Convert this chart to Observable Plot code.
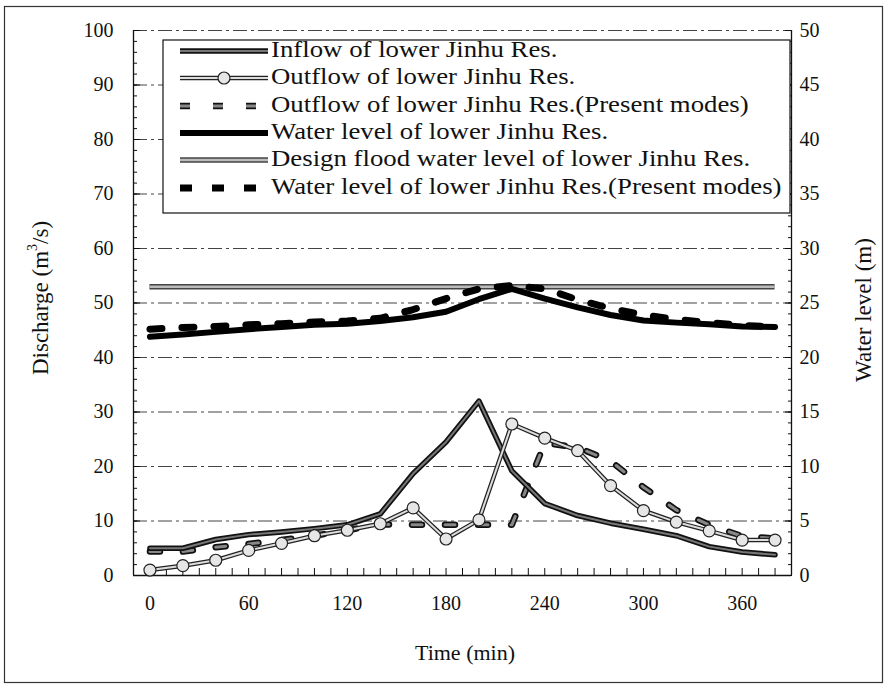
<!DOCTYPE html>
<html><head><meta charset="utf-8">
<script src="https://cdn.jsdelivr.net/npm/d3@7"></script>
<script src="https://cdn.jsdelivr.net/npm/@observablehq/plot@0.6"></script>
<style>
html,body{margin:0;padding:0;background:#fff;}
#chart{width:885px;height:689px;position:relative;}
</style></head><body><div id="chart"></div>
<script>
// ---- data ----
const time = [0,20,40,60,80,100,120,140,160,180,200,220,240,260,280,300,320,340,360,380];
const inflow = [5.0,5.0,6.6,7.5,8.0,8.6,9.3,11.3,18.7,24.5,32.0,19.2,13.2,11.0,9.6,8.5,7.3,5.3,4.3,3.8];
const outflow = [1.0,1.8,2.8,4.6,5.9,7.3,8.3,9.5,12.4,6.7,10.2,27.8,25.2,22.9,16.5,11.9,9.8,8.2,6.5,6.5];
const outflowPresent = [4.4,4.4,5.2,5.8,6.5,7.3,8.3,9.4,9.3,9.3,9.3,9.3,24.3,23.5,21.0,16.2,12.0,9.3,7.2,6.8];
const waterLevel = [21.9,22.1,22.35,22.6,22.8,23.0,23.1,23.35,23.7,24.2,25.35,26.3,25.4,24.6,23.9,23.4,23.2,23.05,22.85,22.8];
const waterLevelPresent = [22.6,22.75,22.85,23.0,23.1,23.25,23.35,23.6,24.4,25.4,26.3,26.6,26.3,25.3,24.5,23.9,23.5,23.2,22.95,22.8];
const designFloodLevel = [26.5];
const xTicks = [0,60,120,180,240,300,360];
const leftTicks = [0,10,20,30,40,50,60,70,80,90,100];
const rightTicks = [0,5,10,15,20,25,30,35,40,45,50];
const legendLabels = [
  "Inflow of lower Jinhu Res.",
  "Outflow of lower Jinhu Res.",
  "Outflow of lower Jinhu Res.(Present modes)",
  "Water level of lower Jinhu Res.",
  "Design flood water level of lower Jinhu Res.",
  "Water level of lower Jinhu Res.(Present modes)"
];

// water level axis (right) is half of discharge axis (left)
const ratio = 2;
const rows = time.map((t, i) => ({
  t, inflow: inflow[i], outflow: outflow[i], outP: outflowPresent[i],
  wl: waterLevel[i] * ratio, wlP: waterLevelPresent[i] * ratio
}));
const xMinor = d3.range(0, 390, 10);
const yMinor = d3.range(0, 101, 2);
const rightInLeft = rightTicks.map(v => v * ratio);

const font = "'Liberation Serif','Times New Roman',serif";
const gridDash = "14,4,3,4";

const plot = Plot.plot({
  width: 885, height: 689,
  marginLeft: 133, marginRight: 94, marginTop: 30, marginBottom: 114,
  x: {domain: [-10, 390]},
  y: {domain: [0, 100]},
  style: {fontFamily: font, fontSize: "20px", color: "#111", background: "transparent"},
  marks: [
    Plot.ruleY(leftTicks.filter(d => d > 0), {stroke: "#444", strokeWidth: 1, strokeDasharray: gridDash}),
    Plot.ruleY([0], {stroke: "#111", strokeWidth: 1.3}),
    Plot.ruleX([-10, 390], {stroke: "#111", strokeWidth: 1.3}),
    // ticks (inward)
    Plot.axisX({ticks: xMinor, tickSize: -7, tickFormat: () => "", label: null}),
    Plot.axisX({ticks: xTicks, tickSize: 0, tickPadding: 20, label: null}),
    Plot.axisY({anchor: "left", ticks: yMinor, tickSize: -4, tickFormat: () => "", label: null}),
    Plot.axisY({anchor: "left", ticks: leftTicks, tickSize: -7, tickFormat: () => "", label: null}),
    Plot.axisY({anchor: "left", ticks: leftTicks, tickSize: 0, tickPadding: 20, label: null}),
    Plot.axisY({anchor: "right", ticks: yMinor, tickSize: -4, tickFormat: () => "", label: null}),
    Plot.axisY({anchor: "right", ticks: rightInLeft, tickSize: -7, tickFormat: () => "", label: null}),
    Plot.axisY({anchor: "right", ticks: rightInLeft, tickSize: 0, tickPadding: 8, tickFormat: d => d / ratio, label: null}),
    // design flood water level
    Plot.ruleY(designFloodLevel, {y: d => d * ratio, x1: time[0], x2: time[time.length - 1], stroke: "#444", strokeWidth: 5.5}),
    Plot.ruleY(designFloodLevel, {y: d => d * ratio, x1: time[0], x2: time[time.length - 1], stroke: "#bbb", strokeWidth: 2.5}),
    // water level present modes
    Plot.line(rows, {x: "t", y: "wlP", stroke: "#000", strokeWidth: 7, strokeDasharray: "12,20"}),
    // water level
    Plot.line(rows, {x: "t", y: "wl", stroke: "#000", strokeWidth: 6}),
    // outflow present modes
    Plot.line(rows, {x: "t", y: "outP", stroke: "#111", strokeWidth: 6.5, strokeDasharray: "10,23"}),
    Plot.line(rows, {x: "t", y: "outP", stroke: "#888", strokeWidth: 3, strokeDasharray: "10,23"}),
    // inflow
    Plot.line(rows, {x: "t", y: "inflow", stroke: "#111", strokeWidth: 5.5}),
    Plot.line(rows, {x: "t", y: "inflow", stroke: "#777", strokeWidth: 2}),
    // outflow
    Plot.line(rows, {x: "t", y: "outflow", stroke: "#222", strokeWidth: 4.5}),
    Plot.line(rows, {x: "t", y: "outflow", stroke: "#ddd", strokeWidth: 2}),
    Plot.dot(rows, {x: "t", y: "outflow", r: 6, fill: "#e6e6e6", stroke: "#222", strokeWidth: 1.2})
  ]
});

const svg = d3.select(plot);
// outer frame
svg.insert("rect", ":first-child").attr("x", 4.5).attr("y", 6.5).attr("width", 878).attr("height", 676)
  .attr("fill", "#fff").attr("stroke", "#333").attr("stroke-width", 1.2);

// axis titles
svg.append("text").attr("transform", "translate(43,298) rotate(-90)")
  .attr("text-anchor", "middle").attr("dominant-baseline", "middle")
  .style("font-family", font).style("font-size", "23px").attr("fill", "#111")
  .html("Discharge (m<tspan dy='-9' font-size='14px'>3</tspan><tspan dy='9'>/s)</tspan>");
svg.append("text").attr("transform", "translate(866,310) rotate(-90)")
  .attr("text-anchor", "middle").attr("dominant-baseline", "middle")
  .style("font-family", font).style("font-size", "23px").attr("fill", "#111")
  .text("Water level (m)");
svg.append("text").attr("x", 465).attr("y", 655)
  .attr("text-anchor", "middle").attr("dominant-baseline", "middle")
  .style("font-family", font).style("font-size", "22px").attr("fill", "#111")
  .text("Time (min)");

// legend
const lg = svg.append("g");
lg.append("rect").attr("x", 163).attr("y", 40).attr("width", 627).attr("height", 173)
  .attr("fill", "#fff").attr("stroke", "#111").attr("stroke-width", 1.2);
const rowY = [51, 78, 106, 133, 160, 188];
const sx0 = 180, sx1 = 268;
function seg(y, stroke, w, dash) {
  const l = lg.append("line").attr("x1", sx0).attr("x2", sx1).attr("y1", y).attr("y2", y)
    .attr("stroke", stroke).attr("stroke-width", w);
  if (dash) l.attr("stroke-dasharray", dash);
}
seg(rowY[0], "#111", 5.5); seg(rowY[0], "#777", 2);
seg(rowY[1], "#222", 4.5); seg(rowY[1], "#ddd", 2);
lg.append("circle").attr("cx", (sx0 + sx1) / 2).attr("cy", rowY[1]).attr("r", 6).attr("fill", "#e6e6e6").attr("stroke", "#222").attr("stroke-width", 1.2);
seg(rowY[2], "#111", 6.5, "10,23"); seg(rowY[2], "#888", 3, "10,23");
seg(rowY[3], "#000", 6);
seg(rowY[4], "#444", 5.5); seg(rowY[4], "#bbb", 2.5);
seg(rowY[5], "#000", 7, "12,20");
const legendTexts = legendLabels.map((s, i) =>
  lg.append("text").attr("x", sx1 + 3).attr("y", rowY[i] + 1).attr("dominant-baseline", "middle")
    .attr("text-anchor", "start")
    .style("font-family", font).style("font-size", "23.5px").attr("fill", "#111").text(s));

document.getElementById("chart").appendChild(plot);
// widen legend glyphs horizontally to the reference's proportions
legendTexts.forEach(t => {
  const n = t.node();
  const w = n.getComputedTextLength();
  if (w > 0) t.attr("textLength", (w * 1.14).toFixed(1)).attr("lengthAdjust", "spacingAndGlyphs");
});
</script>
</body></html>
